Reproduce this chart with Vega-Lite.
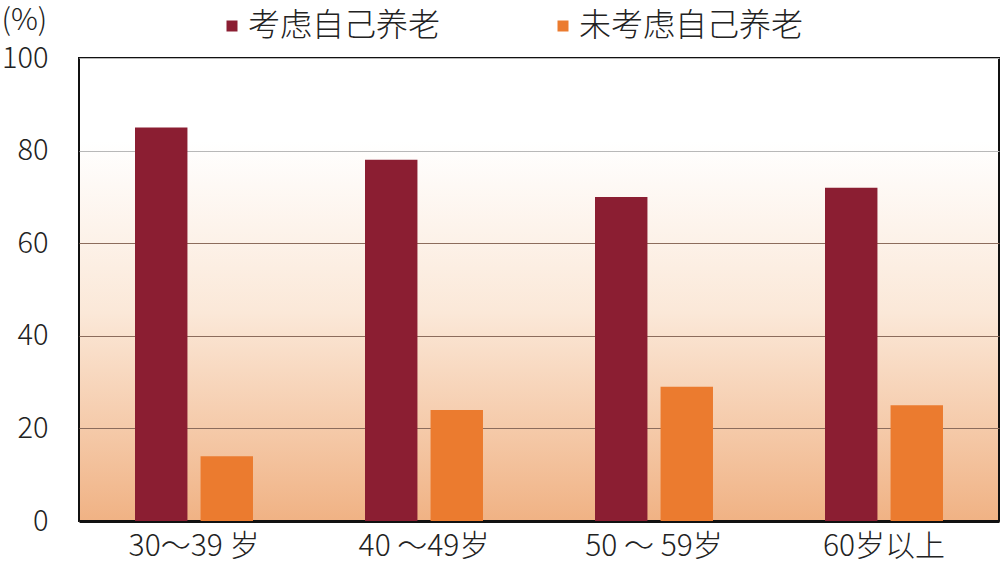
{
  "$schema": "https://vega.github.io/schema/vega-lite/v6.json",
  "width": 920,
  "height": 463,
  "autosize": "none",
  "padding": {"left": 79, "top": 58, "right": 2, "bottom": 47},
  "background": "white",
  "data": {
    "values": [
      {"age": "30～39 岁", "group": "考虑自己养老", "value": 85},
      {"age": "30～39 岁", "group": "未考虑自己养老", "value": 14},
      {"age": "40 ～49岁", "group": "考虑自己养老", "value": 78},
      {"age": "40 ～49岁", "group": "未考虑自己养老", "value": 24},
      {"age": "50 ～ 59岁", "group": "考虑自己养老", "value": 70},
      {"age": "50 ～ 59岁", "group": "未考虑自己养老", "value": 29},
      {"age": "60岁以上", "group": "考虑自己养老", "value": 72},
      {"age": "60岁以上", "group": "未考虑自己养老", "value": 25}
    ]
  },
  "mark": {"type": "bar"},
  "encoding": {
    "x": {
      "field": "age",
      "type": "nominal",
      "sort": null,
      "scale": {"paddingInner": 0.487, "paddingOuter": 0.2435},
      "axis": {
        "title": null,
        "labelAngle": 0,
        "labelFontSize": 30,
        "labelFont": "Noto Sans CJK SC",
        "labelFontWeight": 300,
        "labelColor": "#222",
        "labelPadding": 10,
        "ticks": false,
        "domain": true,
        "domainColor": "#111",
        "domainWidth": 3
      }
    },
    "xOffset": {
      "field": "group",
      "type": "nominal",
      "sort": ["考虑自己养老", "未考虑自己养老"],
      "scale": {"paddingInner": 0.2, "paddingOuter": 0}
    },
    "y": {
      "field": "value",
      "type": "quantitative",
      "scale": {"domain": [0, 100], "nice": false},
      "axis": {
        "values": [0, 20, 40, 60, 80, 100],
        "title": "(%)",
        "titleAngle": 0,
        "titleAlign": "left",
        "titleBaseline": "middle",
        "titleX": -78,
        "titleY": -38,
        "titleFont": "Noto Sans CJK SC",
        "titleFontWeight": 300,
        "titleFontSize": 30,
        "titleColor": "#222",
        "labelFontSize": 29,
        "labelFont": "Noto Sans CJK SC",
        "labelFontWeight": 300,
        "labelColor": "#222",
        "labelPadding": 31,
        "ticks": false,
        "domain": false,
        "grid": true,
        "gridColor": {"condition": {"test": "datum.value >= 80", "value": "#b8b8b8"}, "value": "#8c6c5c"},
        "gridWidth": 1.2
      }
    },
    "color": {
      "field": "group",
      "type": "nominal",
      "scale": {"domain": ["考虑自己养老", "未考虑自己养老"], "range": ["#8b1e32", "#eb7b2f"]},
      "legend": {
        "title": null,
        "orient": "none",
        "direction": "horizontal",
        "legendX": 137,
        "legendY": -48,
        "symbolType": "square",
        "symbolSize": 121,
        "symbolStrokeWidth": 0,
        "symbolOpacity": 1,
        "labelFont": "Noto Sans CJK SC",
        "labelFontWeight": 300,
        "labelFontSize": 32,
        "labelColor": "#222",
        "labelOffset": 0,
        "columnPadding": 106,
        "labelLimit": 400,
        "symbolOffset": 0
      }
    }
  },
  "config": {
    "view": {
      "stroke": "#111",
      "strokeWidth": 2,
      "fill": {
        "gradient": "linear",
        "x1": 0, "y1": 0, "x2": 0, "y2": 1,
        "stops": [
          {"offset": 0, "color": "#ffffff"},
          {"offset": 0.18, "color": "#ffffff"},
          {"offset": 0.55, "color": "#fbe8d8"},
          {"offset": 1, "color": "#f0b284"}
        ]
      }
    }
  }
}
